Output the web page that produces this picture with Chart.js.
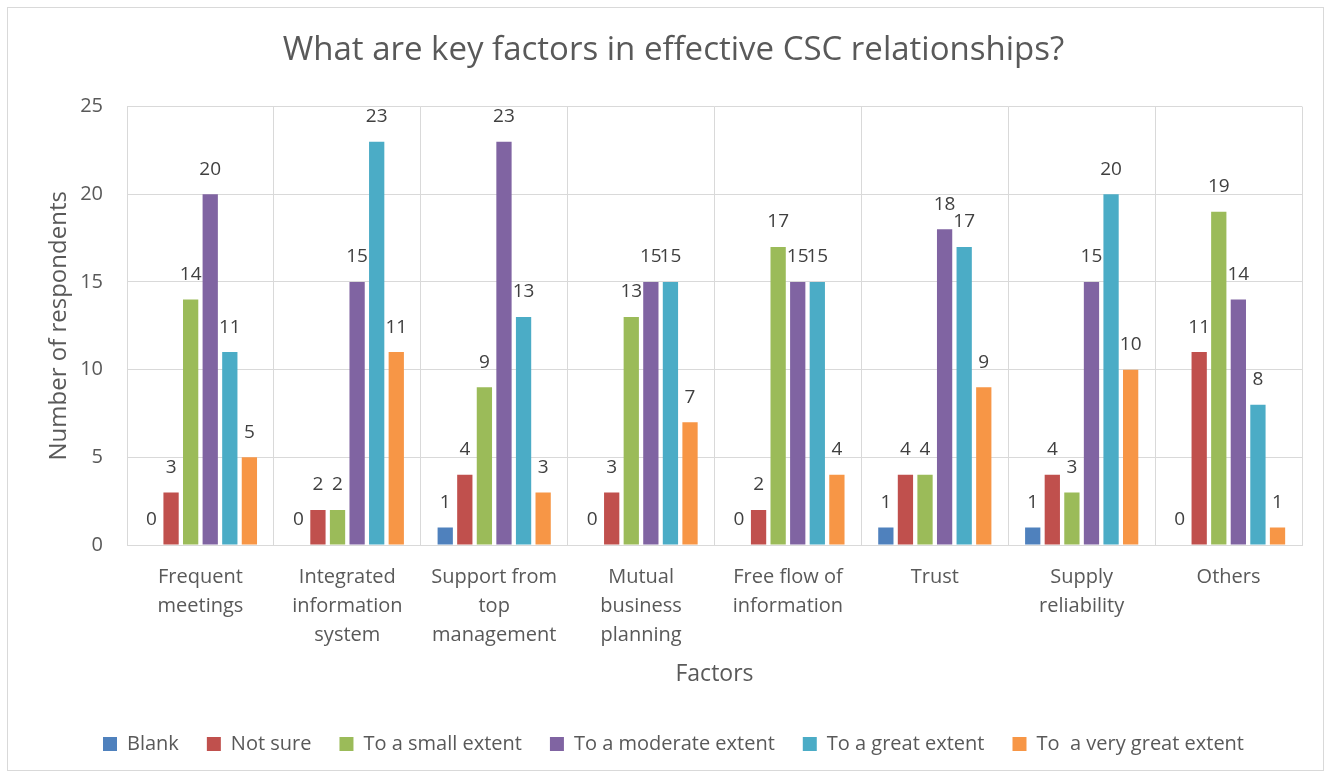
<!DOCTYPE html>
<html>
<head>
<meta charset="utf-8">
<script src="https://cdn.jsdelivr.net/npm/chart.js@4/dist/chart.umd.min.js"></script>
<style>
  html, body { margin: 0; padding: 0; background: #fff; }
  #wrap { width: 1331px; height: 778px; }
</style>
</head>
<body>
<div id="wrap"><canvas id="chart" width="1331" height="778"></canvas></div>
<script>
  // categories (multi-line labels as in the original)
  const factors = [
    ['Frequent', 'meetings'],
    ['Integrated', 'information', 'system'],
    ['Support from', 'top', 'management'],
    ['Mutual', 'business', 'planning'],
    ['Free flow of', 'information'],
    'Trust',
    ['Supply', 'reliability'],
    'Others'
  ];

  // series
  const blank      = [0, 0, 1, 0, 0, 1, 1, 0];
  const notSure    = [3, 2, 4, 3, 2, 4, 4, 11];
  const smallExt   = [14, 2, 9, 13, 17, 4, 3, 19];
  const moderate   = [20, 15, 23, 15, 15, 18, 15, 14];
  const greatExt   = [11, 23, 13, 15, 15, 17, 20, 8];
  const veryGreat  = [5, 11, 3, 7, 4, 9, 10, 1];

  const yTicks = [0, 5, 10, 15, 20, 25];

  const FONT = '"Open Sans", Lato, "Liberation Sans", sans-serif';
  const GRID = '#d9d9d9';
  const TEXT = '#595959';

  // draws the number above each bar
  const barLabels = {
    id: 'barLabels',
    afterDatasetsDraw(chart) {
      const ctx = chart.ctx;
      ctx.save();
      ctx.font = '19px ' + FONT;
      ctx.fillStyle = '#404040';
      ctx.textAlign = 'center';
      ctx.textBaseline = 'middle';
      chart.data.datasets.forEach((ds, i) => {
        const meta = chart.getDatasetMeta(i);
        meta.data.forEach((bar, j) => {
          ctx.fillText(String(ds.data[j]), bar.x, bar.y - 25);
        });
      });
      ctx.restore();
    }
  };

  // white background + light outer frame
  const frame = {
    id: 'frame',
    beforeDraw(chart) {
      const ctx = chart.ctx;
      ctx.save();
      ctx.fillStyle = '#fff';
      ctx.fillRect(0, 0, chart.width, chart.height);
      ctx.strokeStyle = GRID;
      ctx.lineWidth = 1;
      ctx.strokeRect(7.5, 7.5, 1316, 763);
      ctx.restore();
    }
  };

  new Chart(document.getElementById('chart').getContext('2d'), {
    type: 'bar',
    data: {
      labels: factors,
      datasets: [
        { label: 'Blank', data: blank, backgroundColor: '#4F81BD' },
        { label: 'Not sure', data: notSure, backgroundColor: '#C0504D' },
        { label: 'To a small extent', data: smallExt, backgroundColor: '#9BBB59' },
        { label: 'To a moderate extent', data: moderate, backgroundColor: '#8064A2' },
        { label: 'To a great extent', data: greatExt, backgroundColor: '#4BACC6' },
        { label: 'To  a very great extent', data: veryGreat, backgroundColor: '#F79646' }
      ]
    },
    options: {
      responsive: false,
      animation: false,
      datasets: { bar: { categoryPercentage: 0.8, barPercentage: 0.78 } },
      layout: { padding: { left: 45, right: 29, top: 20, bottom: 14 } },
      plugins: {
        title: {
          display: true,
          text: 'What are key factors in effective CSC relationships?',
          color: TEXT,
          font: { family: FONT, size: 33, weight: 'normal' },
          padding: { top: 11, bottom: 36 }
        },
        legend: {
          position: 'bottom',
          align: 'center',
          labels: {
            color: TEXT,
            font: { family: FONT, size: 20 },
            boxWidth: 14,
            boxHeight: 14,
            padding: 28
          }
        },
        tooltip: { enabled: false }
      },
      scales: {
        x: {
          grid: { color: GRID, drawTicks: false, offset: true },
          border: { color: GRID },
          ticks: { color: TEXT, font: { family: FONT, size: 20, lineHeight: 1.45 }, padding: 18, maxRotation: 0 },
          title: {
            display: true, text: 'Factors', color: TEXT,
            font: { family: FONT, size: 23 }, padding: { top: 0, bottom: 18 }
          },
          afterFit(scale) { scale.height = 161; }
        },
        y: {
          min: 0, max: 25,
          grid: { color: GRID, drawTicks: false },
          border: { display: false },
          afterBuildTicks(scale) { scale.ticks = yTicks.map(v => ({ value: v })); },
          ticks: { color: TEXT, font: { family: FONT, size: 20 }, padding: 24 },
          title: {
            display: true, text: 'Number of respondents', color: TEXT,
            font: { family: FONT, size: 24 }, padding: { top: 0, bottom: 0 }
          },
          afterFit(scale) { scale.width = 82; }
        }
      }
    },
    plugins: [frame, barLabels]
  });
</script>
</body>
</html>
